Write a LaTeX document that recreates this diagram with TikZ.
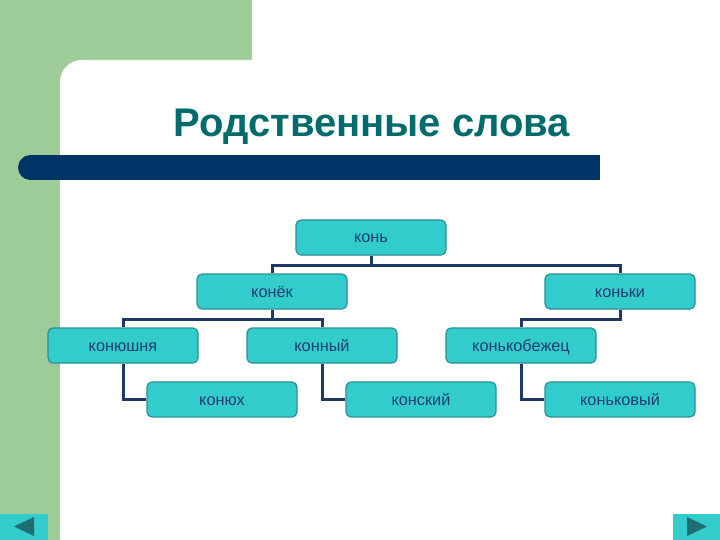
\documentclass[tikz,border=0pt]{standalone}
\usepackage{fontspec}
\setmainfont{Liberation Sans}
\definecolor{sgreen}{HTML}{9ECC98}
\definecolor{navybar}{HTML}{003366}
\definecolor{titleteal}{HTML}{006B6B}
\definecolor{boxfill}{HTML}{33CCCC}
\definecolor{boxline}{HTML}{2A8F96}
\definecolor{boxtext}{HTML}{1F3F6F}
\definecolor{linkc}{HTML}{1F3864}
\definecolor{navtri}{HTML}{1F6E73}
\begin{document}
\begin{tikzpicture}[x=1pt,y=-1pt,
  wbox/.style={draw=boxline, line width=1.2pt, fill=boxfill, rounded corners=5pt,
    minimum width=150pt, minimum height=35pt, inner sep=0pt,
    text height=11pt, text depth=0pt,
    text=boxtext, font=\fontsize{16.3}{18}\selectfont},
  link/.style={draw=linkc, line width=3pt}]
\useasboundingbox (0,0) rectangle (720,540);
\fill[white] (0,0) rectangle (720,540);
\fill[sgreen] (0,0) rectangle (252,100);
\fill[sgreen] (0,0) rectangle (100,540);
\fill[white, rounded corners=22pt] (60,60) rectangle (760,580);
% title
\node[text=titleteal, font=\fontsize{40}{44}\selectfont\bfseries, anchor=base] (title) at (372,137) {Родственные слова};
% bar
\fill[navybar] (30.5,155) rectangle (600,180);
\fill[navybar] (30.5,167.5) circle[radius=12.5pt];
% nodes
\node[wbox] (kon) at (371,237.5) {конь};
\node[wbox] (konek) at (272,291.5) {конёк};
\node[wbox] (konki) at (620,291.5) {коньки};
\node[wbox] (konyushnya) at (123,345.5) {конюшня};
\node[wbox] (konny) at (322,345.5) {конный};
\node[wbox] (konkobezh) at (521,345.5) {конькобежец};
\node[wbox] (konyukh) at (222,399.5) {конюх};
\node[wbox] (konsky) at (421,399.5) {конский};
\node[wbox] (konkovy) at (620,399.5) {коньковый};
% connectors
\path (kon.south) ++(0,9.5) coordinate (j1);
\path (konek.south) ++(0,9.5) coordinate (j2);
\path (konki.south) ++(0,9.5) coordinate (j3);
\draw[link] (kon.south) -- (j1) -| (konek.north);
\draw[link] (j1) -| (konki.north);
\draw[link] (konek.south) -- (j2) -| (konyushnya.north);
\draw[link] (j2) -| (konny.north);
\draw[link] (konki.south) -- (j3) -| (konkobezh.north);
\draw[link] (konyushnya.south) |- (konyukh.west);
\draw[link] (konny.south) |- (konsky.west);
\draw[link] (konkobezh.south) |- (konkovy.west);
% nav buttons
\fill[boxfill] (0,514) rectangle (48,540);
\fill[navtri] (14,526.5) -- (34,517) -- (34,536) -- cycle;
\fill[boxfill] (673,514) rectangle (720,540);
\fill[navtri] (707,526.5) -- (687,517) -- (687,536) -- cycle;
\end{tikzpicture}
\end{document}
